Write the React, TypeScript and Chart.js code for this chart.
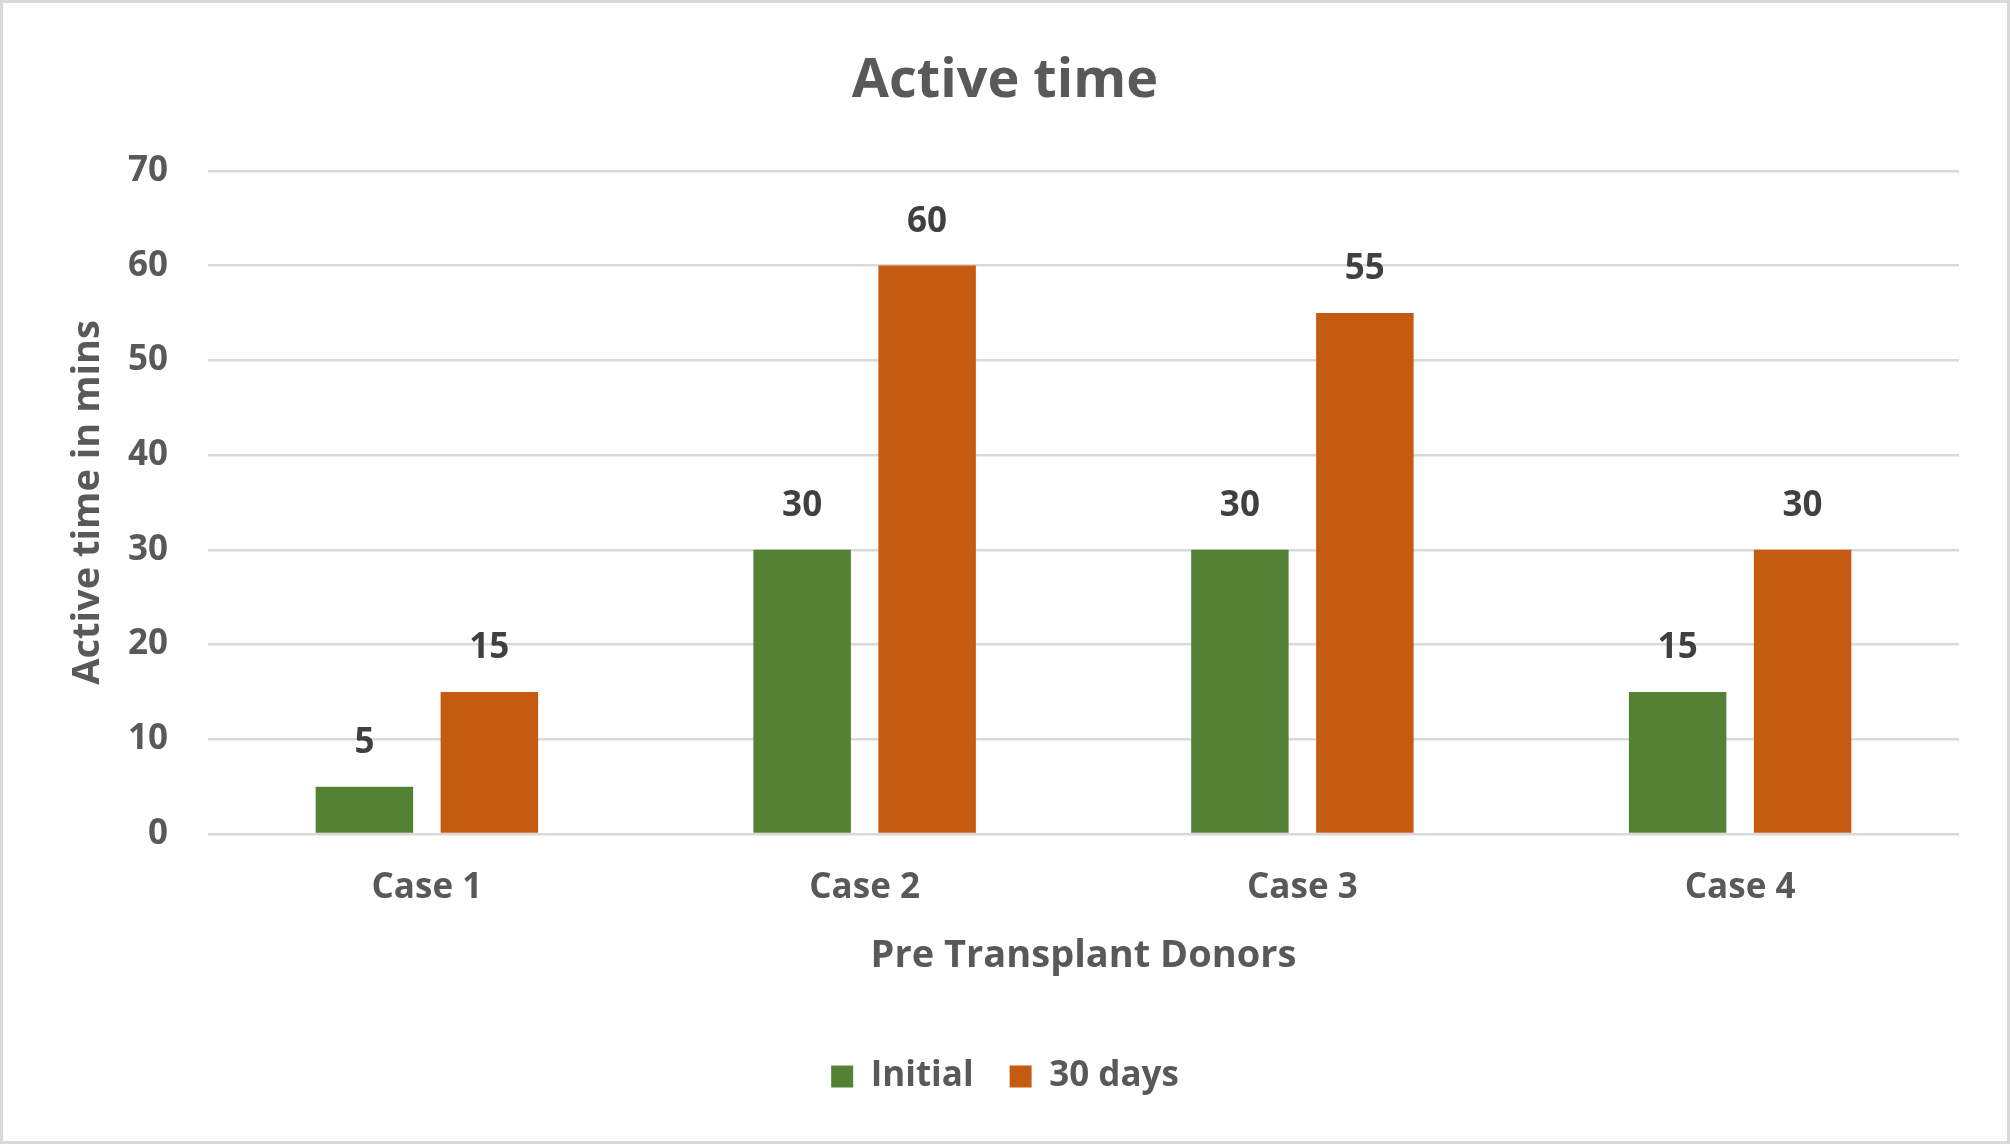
import React, { useEffect, useRef } from "react";
import { Chart, registerables } from "chart.js";

Chart.register(...registerables);

const categories = ["Case 1", "Case 2", "Case 3", "Case 4"];
const initialValues = [5, 30, 30, 15];
const thirtyDayValues = [15, 60, 55, 30];
const seriesNames = ["Initial", "30 days"];
const yTickMax = 70;
const yTickStep = 10;

const FONT = "'Open Sans', 'DejaVu Sans', sans-serif";
const GREY = "#595959";

const valueLabelPlugin = {
  id: "valueLabels",
  afterDatasetsDraw(chart: any) {
    const ctx = chart.ctx;
    ctx.save();
    ctx.font = `bold 35px ${FONT}`;
    ctx.fillStyle = "#404040";
    ctx.textAlign = "center";
    ctx.textBaseline = "middle";
    chart.data.datasets.forEach((ds: any, di: number) => {
      const meta = chart.getDatasetMeta(di);
      meta.data.forEach((el: any, i: number) => {
        ctx.fillText(String(ds.data[i]), el.x, el.y - 44);
      });
    });
    ctx.restore();
  },
};

const framePlugin = {
  id: "frame",
  afterDraw(chart: any) {
    const ctx = chart.ctx;
    ctx.save();
    ctx.strokeStyle = "#d9d9d9";
    ctx.lineWidth = 3;
    ctx.strokeRect(1.5, 1.5, chart.width - 3, chart.height - 3);
    ctx.restore();
  },
};

export default function App() {
  const ref = useRef<HTMLCanvasElement>(null);
  useEffect(() => {
    if (!ref.current) return;
    const chart = new Chart(ref.current, {
      type: "bar",
      data: {
        labels: categories,
        datasets: [
          {
            label: seriesNames[0],
            data: initialValues,
            backgroundColor: "#548235",
            borderWidth: 0,
            categoryPercentage: 0.571,
            barPercentage: 0.78,
          },
          {
            label: seriesNames[1],
            data: thirtyDayValues,
            backgroundColor: "#C55A11",
            borderWidth: 0,
            categoryPercentage: 0.571,
            barPercentage: 0.78,
          },
        ],
      },
      options: {
        responsive: false,
        animation: false,
        devicePixelRatio: 1,
        layout: { padding: { left: 51, right: 51, top: 0, bottom: 40 } },
        plugins: {
          title: {
            display: true,
            text: "Active time",
            color: GREY,
            font: { family: FONT, size: 54, weight: "bold" },
            padding: { top: 49, bottom: 57 },
          },
          legend: {
            position: "bottom",
            labels: {
              color: GREY,
              font: { family: FONT, size: 35, weight: "bold" },
              boxWidth: 22,
              boxHeight: 22,
              padding: 36,
            },
          },
          tooltip: { enabled: false },
        },
        scales: {
          x: {
            grid: { display: false, drawTicks: false },
            border: { display: false },
            ticks: {
              color: GREY,
              font: { family: FONT, size: 35, weight: "bold" },
              padding: 33,
            },
            title: {
              display: true,
              text: "Pre Transplant Donors",
              color: GREY,
              font: { family: FONT, size: 38, weight: "bold" },
              padding: { top: 0, bottom: 44 },
            },
            afterFit(scale: any) {
              scale.height = 189;
            },
          },
          y: {
            min: 0,
            max: yTickMax,
            grid: { color: "#d9d9d9", lineWidth: 2.5, drawTicks: false },
            border: { display: false },
            ticks: {
              stepSize: yTickStep,
              color: GREY,
              font: { family: FONT, size: 35, weight: "bold" },
              padding: 40,
            },
            title: {
              display: true,
              text: "Active time in mins",
              color: GREY,
              font: { family: FONT, size: 38, weight: "bold" },
              padding: { top: 14, bottom: 0 },
            },
            afterFit(scale: any) {
              scale.width = 157;
            },
          },
        },
      },
      plugins: [valueLabelPlugin, framePlugin],
    });
    return () => chart.destroy();
  }, []);
  return (
    <div style={{ position: "fixed", left: 0, top: 0, width: 2010, height: 1144, background: "#fff" }}>
      <canvas ref={ref} width={2010} height={1144} style={{ display: "block" }} />
    </div>
  );
}
